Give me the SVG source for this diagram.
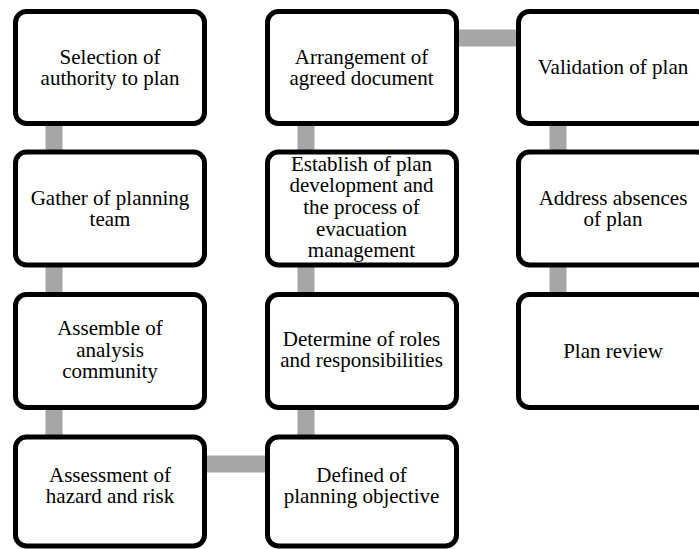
<svg xmlns="http://www.w3.org/2000/svg" width="699" height="549" viewBox="0 0 699 549">
<style>
.box{fill:#fff;stroke:#000;stroke-width:5}
.con{stroke:#a6a6a6;stroke-width:17;fill:none}
text{font-family:"Liberation Serif","Times New Roman",serif;font-size:21px;fill:#000;text-anchor:middle}
</style>
<rect width="699" height="549" fill="#fff"/>
<g id="connectors">
<line class="con" x1="54" y1="120" x2="54" y2="440"/>
<line class="con" x1="306" y1="120" x2="306" y2="440"/>
<line class="con" x1="558" y1="120" x2="558" y2="300"/>
<line class="con" x1="450" y1="38" x2="525" y2="38"/>
<line class="con" x1="200" y1="464" x2="272" y2="464"/>
</g>
<g id="n1"><rect class="box" x="15.5" y="11.5" width="189" height="112" rx="11"/>
<text x="110" y="63.5">Selection of</text><text x="110" y="85.2">authority to plan</text></g>
<g id="n2"><rect class="box" x="15.5" y="152" width="189" height="113" rx="11"/>
<text x="110" y="204.5">Gather of planning</text><text x="110" y="226.2">team</text></g>
<g id="n3"><rect class="box" x="15.5" y="294.5" width="189" height="113" rx="11"/>
<text x="110" y="335">Assemble of</text><text x="110" y="356.7">analysis</text><text x="110" y="378.4">community</text></g>
<g id="n4"><rect class="box" x="15.5" y="437" width="189" height="109" rx="11"/>
<text x="110" y="481.5">Assessment of</text><text x="110" y="503.2">hazard and risk</text></g>
<g id="n5"><rect class="box" x="267.5" y="437" width="189" height="109" rx="11"/>
<text x="361.5" y="481.5">Defined of</text><text x="361.5" y="503.2">planning objective</text></g>
<g id="n6"><rect class="box" x="267.5" y="294.5" width="189" height="113" rx="11"/>
<text x="361.5" y="345.5">Determine of roles</text><text x="361.5" y="367.2">and responsibilities</text></g>
<g id="n7"><rect class="box" x="267.5" y="152" width="189" height="113" rx="11"/>
<text x="361.5" y="170.5">Establish of plan</text><text x="361.5" y="192.2">development and</text><text x="361.5" y="213.9">the process of</text><text x="361.5" y="235.6">evacuation</text><text x="361.5" y="257.3">management</text></g>
<g id="n8"><rect class="box" x="267.5" y="11.5" width="189" height="112" rx="11"/>
<text x="361.5" y="63.5">Arrangement of</text><text x="361.5" y="85.2">agreed document</text></g>
<g id="n9"><rect class="box" x="518.5" y="11.5" width="189" height="112" rx="11"/>
<text x="613" y="74">Validation of plan</text></g>
<g id="n10"><rect class="box" x="518.5" y="152" width="189" height="113" rx="11"/>
<text x="613" y="204.5">Address absences</text><text x="613" y="226.2">of plan</text></g>
<g id="n11"><rect class="box" x="518.5" y="294.5" width="189" height="113" rx="11"/>
<text x="613" y="358">Plan review</text></g>
</svg>
